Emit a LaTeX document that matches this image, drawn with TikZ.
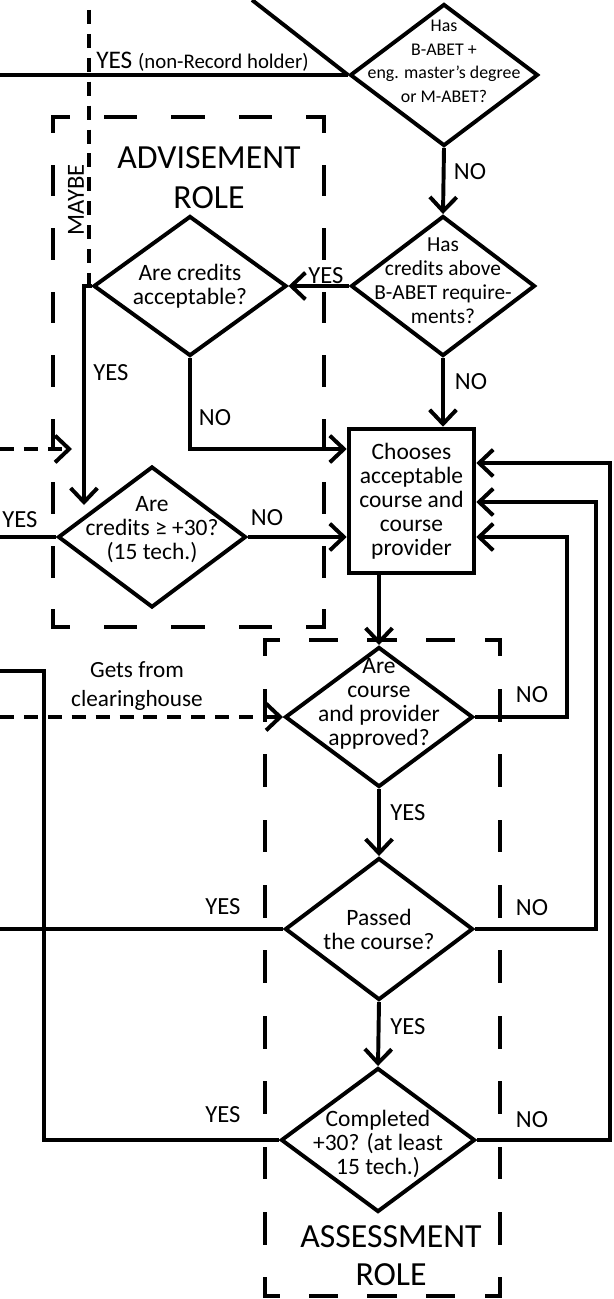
\documentclass[tikz,border=0pt]{standalone}
\usepackage{fontspec}
\setmainfont{Carlito}
\usetikzlibrary{positioning, arrows.meta, shapes.geometric}

\begin{document}
\begin{tikzpicture}[
    x=0.025cm, y=-0.025cm,
    every node/.style={inner sep=0pt},
    wire/.style={line width=2.8pt},
    flow/.style={wire, -{Straight Barb[length=10pt, width=19pt]}},
    dashline/.style={line width=2.8pt, dash pattern=on 10pt off 7pt},
    side/.style n args={3}{line width=3.2pt, line cap=rect, dash pattern=on #1 off #2, dash phase=#3},
    askbox/.style={diamond, draw, line width=2.8pt},
    qtext/.style={font=\fontsize{16.7}{17}\selectfont, align=center},
    answer/.style={font=\fontsize{17.5}{20}\selectfont},
    roletext/.style={font=\fontsize{24}{28.3}\selectfont, align=center}
]
\useasboundingbox (0,0) rectangle (613,1299);

% role frames
\draw[side={20.8pt}{27.2pt}{10.4pt}] (53,117) -- (324,117);
\draw[side={20.8pt}{27.2pt}{10.4pt}] (53,627) -- (324,627);
\draw[side={19.39pt}{25.79pt}{9.7pt}] (53,117) -- (53,627);
\draw[side={19.39pt}{25.79pt}{9.7pt}] (324,117) -- (324,627);
\draw[side={17.62pt}{24.02pt}{8.81pt}] (265,640) -- (500,640);
\draw[side={17.62pt}{24.02pt}{8.81pt}] (265,1296) -- (500,1296);
\draw[side={20.04pt}{26.44pt}{10.02pt}] (265,640) -- (265,1296);
\draw[side={20.04pt}{26.44pt}{10.02pt}] (500,640) -- (500,1296);
\node[roletext] (advrole) at (209,178) {ADVISEMENT\\ROLE};
\node[roletext, font=\fontsize{24}{27}\selectfont] (assrole) at (391,1256) {ASSESSMENT\\ROLE};

% decisions
\node[askbox, minimum width=4.7cm, minimum height=3.55cm,
      label={[align=center, font=\fontsize{12.7}{16.8}\selectfont, yshift=9.6pt]center:Has\\B-ABET +\\eng. master’s degree\\or M-ABET?}] (master) at (444,75) {};
\node[askbox, minimum width=4.6cm, minimum height=3.5cm,
      label={[align=center, font=\fontsize{15.2}{17}\selectfont, yshift=3.5pt]center:Has\\credits above\\B-ABET require-\\ments?}] (above) at (443,286) {};
\node[askbox, minimum width=4.825cm, minimum height=3.5cm,
      label={[qtext]center:Are credits\\acceptable?}] (accept) at (190,286) {};
\node[askbox, minimum width=4.7cm, minimum height=3.525cm,
      label={[qtext, yshift=5pt]center:Are\\credits ≥ +30?\\(15 tech.)}] (thirty) at (152,537) {};
\node[draw, line width=3.2pt, minimum width=3.125cm, minimum height=3.6cm, qtext] (choose) at (411.5,501)
      {Chooses\\acceptable\\course and\\course\\provider};
\node[askbox, minimum width=4.7cm, minimum height=3.5cm,
      label={[qtext, yshift=9.2pt]center:Are\\course\\and provider\\approved?}] (approved) at (379,717) {};
\node[askbox, minimum width=4.7cm, minimum height=3.55cm,
      label={[qtext]center:Passed\\the course?}] (passed) at (379,929) {};
\node[askbox, minimum width=4.85cm, minimum height=3.6cm,
      label={[qtext, yshift=-3pt]center:Completed\\+30? (at least\\15 tech.)}] (completed) at (378,1140) {};

% loose ends
\coordinate (offdiag) at (252,0);
\coordinate (offmaster) at (0,75);
\coordinate (maybetop) at (89,10);
\coordinate (offmaybe) at (0,449);
\coordinate (maybein) at (72,449);
\coordinate (yesin) at (84,505);
\coordinate (offthirty) at (0,537);
\coordinate (offclear) at (0,717);
\coordinate (offcompleted) at (0,671);
\coordinate (offpassed) at (0,929);

\draw[wire] (offdiag) -- (master.west);
\draw[wire] (master.west) -- (offmaster);
\draw[dashline] (maybetop) -- (maybetop |- accept.west);
\draw[flow] (master.south) -- (above.north);
\draw[flow] (above.west) -- (accept.east);
\draw[flow] (above.south) -- (above.south |- choose.north);
\draw[flow] (accept.west) -| (yesin);
\draw[flow] (accept.south) |- (choose.west |- 0,449);
\draw[dashline, -{Straight Barb[length=10pt, width=19pt]}] (offmaybe) -- (maybein);
\draw[wire] (thirty.west) -- (offthirty);
\draw[flow] (thirty.east) -- (thirty.east -| choose.west);
\draw[flow] (choose.south -| approved.north) -- (approved.north);
\draw[dashline, -{Straight Barb[length=10pt, width=19pt]}] (offclear) -- (approved.west);
\draw[flow] (approved.east) -| (567,537) -- (choose.east |- 567,537);
\draw[flow] (approved.south) -- (passed.north);
\draw[wire] (passed.west) -- (offpassed);
\draw[flow] (passed.east) -| (596,502) -- (choose.east |- 596,502);
\draw[flow] (passed.south) -- (completed.north);
\draw[wire] (completed.west) -| (44,671) -- (offcompleted);
\draw[flow] (completed.east) -| (610,463) -- (choose.east |- 610,463);

% answers
\node[anchor=base west] (yesnr) at (96,69) {\fontsize{18}{20}\selectfont YES \fontsize{14.8}{17}\selectfont(non-Record holder)};
\node[answer, rotate=90] (maybe) at (76,200) {MAYBE};
\node[answer] (no1) at (470,172) {NO};
\node[answer] (yes1) at (326,276) {YES};
\node[answer] (yes2) at (111,373) {YES};
\node[answer] (no2) at (215,418) {NO};
\node[answer] (no3) at (471,382) {NO};
\node[answer, anchor=west] (yes3) at (2,520) {YES};
\node[answer] (no4) at (267,518) {NO};
\node[qtext, font=\fontsize{16.5}{20}\selectfont] (clear) at (137,686) {Gets from\\clearinghouse};
\node[answer] (no5) at (532,695) {NO};
\node[answer] (yes4) at (408,813) {YES};
\node[answer] (yes5) at (223,907) {YES};
\node[answer] (no6) at (532,908) {NO};
\node[answer] (yes6) at (408,1027) {YES};
\node[answer] (yes7) at (223,1115) {YES};
\node[answer] (no7) at (532,1120) {NO};
\end{tikzpicture}
\end{document}
